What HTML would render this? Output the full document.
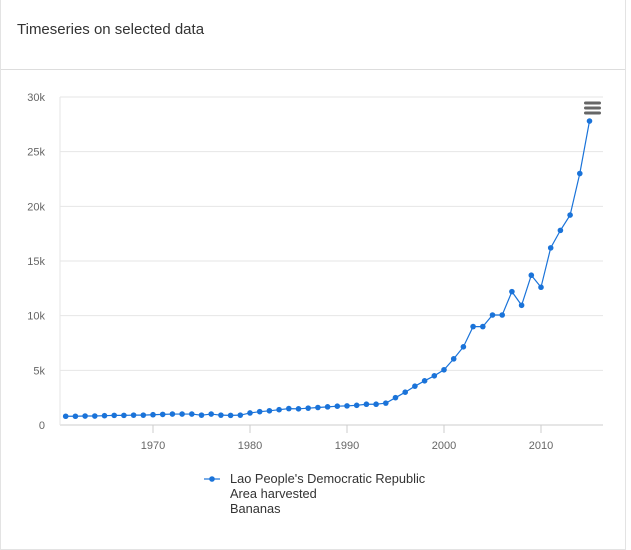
<!DOCTYPE html>
<html><head><meta charset="utf-8"><style>
body{margin:0;background:#fff;width:631px;height:550px;overflow:hidden;font-family:"Liberation Sans",sans-serif}
#card{position:absolute;left:0;top:0;width:626px;height:550px;border:1px solid #e3e3e3;border-top:none;box-sizing:border-box;background:#fff}
#hdr{position:absolute;left:0;top:0;width:100%;height:70px;border-bottom:1px solid #ddd;box-sizing:border-box}
#title{position:absolute;left:16px;top:21px;font-size:15px;color:#333}
svg{position:absolute;left:0;top:0}
</style></head><body>
<div id="card">
<div id="hdr"><div id="title">Timeseries on selected data</div></div>
</div>
<svg id="chart" width="631" height="550"></svg>
<script>
const years=[];for(let y=1961;y<=2015;y++)years.push(y);
const values=[800,800,820,820,850,880,880,900,900,940,970,1000,1000,1000,900,1000,900,880,900,1100,1220,1300,1400,1500,1480,1540,1600,1660,1720,1750,1800,1900,1900,2000,2500,3000,3550,4040,4500,5050,6050,7150,9000,9000,10060,10060,12200,10950,13700,12600,16200,17800,19200,23000,27800];
const yTicks=[0,5000,10000,15000,20000,25000,30000];
const yTickLabels=["0","5k","10k","15k","20k","25k","30k"];
const xTicks=[1970,1980,1990,2000,2010];
const NS="http://www.w3.org/2000/svg";
const svg=document.getElementById('chart');
const L=60,R=603,T=97,B=425;
const xs=y=>153+(y-1970)*9.7;
const ys=v=>B-(v/30000)*(B-T);
function mk(t,a){const e=document.createElementNS(NS,t);for(const k in a)e.setAttribute(k,a[k]);svg.appendChild(e);return e;}
yTicks.forEach((v,i)=>{
 const g=mk('line',{x1:L,x2:R,y1:ys(v),y2:ys(v),stroke:i==0?'#ccc':'#e6e6e6','stroke-width':1});
 
 
 const t=mk('text',{x:45,y:ys(v)+4,'text-anchor':'end','font-size':11,fill:'#666','font-family':'Liberation Sans, sans-serif'});
 t.textContent=yTickLabels[i];
 
 
});
const ax=mk('line',{x1:L,x2:L,y1:T,y2:B,stroke:'#e6e6e6'});


xTicks.forEach(y=>{
 const l=mk('line',{x1:xs(y),x2:xs(y),y1:B,y2:B+8,stroke:'#ccc'});
 
 
 const t=mk('text',{x:xs(y),y:B+24,'text-anchor':'middle','font-size':11,fill:'#666','font-family':'Liberation Sans, sans-serif'});
 t.textContent=y;
 
 
});
const p=mk('polyline',{points:years.map((y,i)=>xs(y)+','+ys(values[i])).join(' '),fill:'none',stroke:'#1a73d9','stroke-width':1.2});


years.forEach((y,i)=>{
 const c=mk('circle',{cx:xs(y),cy:ys(values[i]),r:2.8,fill:'#1a73d9'});
 
 
});
const menu=mk('g',{});


[103,108,113].forEach(y=>{const r=document.createElementNS(NS,'rect');r.setAttribute('x',584);r.setAttribute('y',y-1.5);r.setAttribute('width',17);r.setAttribute('height',3);r.setAttribute('rx',1.5);r.setAttribute('fill','#666');menu.appendChild(r);});
const lg=mk('g',{});


const ll=document.createElementNS(NS,'line');ll.setAttribute('x1',204);ll.setAttribute('x2',220);ll.setAttribute('y1',479);ll.setAttribute('y2',479);ll.setAttribute('stroke','#1a73d9');ll.setAttribute('stroke-width',1.2);lg.appendChild(ll);
const lc=document.createElementNS(NS,'circle');lc.setAttribute('cx',212);lc.setAttribute('cy',479);lc.setAttribute('r',2.8);lc.setAttribute('fill','#1a73d9');lg.appendChild(lc);
["Lao People's Democratic Republic","Area harvested","Bananas"].forEach((s,i)=>{const t=document.createElementNS(NS,'text');t.setAttribute('x',230);t.setAttribute('y',483+i*15);t.setAttribute('font-size',12.8);t.setAttribute('fill','#333');t.setAttribute('font-family','Liberation Sans, sans-serif');t.textContent=s;lg.appendChild(t);});
</script>
</body></html>
